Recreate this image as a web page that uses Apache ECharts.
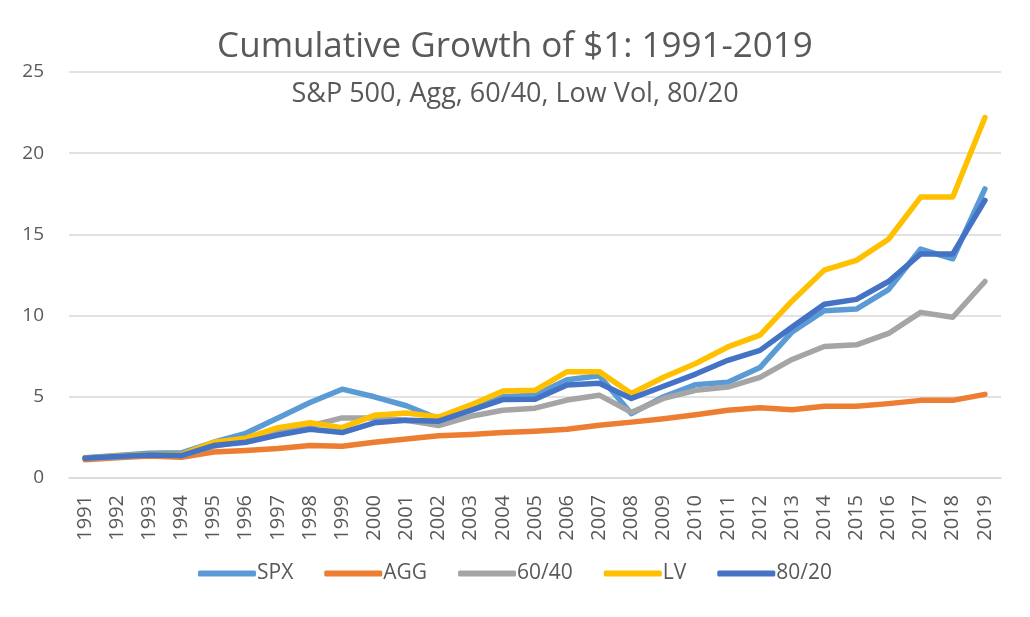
<!DOCTYPE html>
<html><head><meta charset="utf-8">
<script src="https://cdn.jsdelivr.net/npm/echarts@6/dist/echarts.min.js"></script>
<style>html,body{margin:0;padding:0;background:#fff}#c{width:1030px;height:617px}</style>
</head><body><div id="c"></div>
<script>
const years = ['1991','1992','1993','1994','1995','1996','1997','1998','1999','2000','2001','2002','2003','2004','2005','2006','2007','2008','2009','2010','2011','2012','2013','2014','2015','2016','2017','2018','2019'];
const spx   = [1.25,1.38,1.52,1.55,2.2,2.75,3.7,4.65,5.47,5.0,4.45,3.65,4.33,5.0,5.1,6.05,6.3,3.96,5.0,5.75,5.9,6.8,9.0,10.3,10.4,11.6,14.1,13.5,17.8];
const agg   = [1.12,1.25,1.35,1.27,1.6,1.7,1.82,2.0,1.95,2.2,2.4,2.6,2.68,2.8,2.88,3.0,3.25,3.44,3.65,3.9,4.17,4.33,4.2,4.42,4.42,4.58,4.78,4.78,5.15];
const p6040 = [1.2,1.3,1.42,1.38,1.95,2.3,2.8,3.2,3.7,3.7,3.55,3.23,3.8,4.17,4.3,4.8,5.1,4.05,4.9,5.4,5.6,6.2,7.3,8.1,8.2,8.9,10.2,9.9,12.1];
const lv    = [1.22,1.35,1.45,1.45,2.2,2.45,3.1,3.4,3.1,3.86,4.0,3.75,4.5,5.35,5.4,6.55,6.55,5.2,6.2,7.05,8.07,8.8,10.9,12.8,13.4,14.7,17.3,17.3,22.2];
const p8020 = [1.22,1.32,1.42,1.38,2.0,2.2,2.65,3.0,2.8,3.4,3.55,3.5,4.17,4.83,4.85,5.73,5.83,4.9,5.65,6.4,7.25,7.86,9.3,10.7,11.0,12.1,13.8,13.8,17.1];
const yTicks = [0,5,10,15,20,25];
const seriesNames = ['SPX','AGG','60/40','LV','80/20'];
const seriesData = [spx, agg, p6040, lv, p8020];
const colors = ['#5B9BD5','#ED7D31','#A5A5A5','#FFC000','#4472C4'];

const font = 'Open Sans';
const chart = echarts.init(document.getElementById('c'), null, {renderer:'canvas'});
chart.setOption({
  animation:false,
  backgroundColor:'#fff',
  title:[
    {text:'Cumulative Growth of $1: 1991-2019', left:'center', top:25,
     textStyle:{fontFamily:font, fontSize:35, fontWeight:'normal', color:'#595959'}},
    {text:'S&P 500, Agg, 60/40, Low Vol, 80/20', left:'center', top:76,
     textStyle:{fontFamily:font, fontSize:27, fontWeight:'normal', color:'#595959'}}
  ],
  legend:{
    data:seriesNames, bottom:28, left:'center', itemWidth:58, itemHeight:6, itemGap:31,
    icon:'roundRect',
    textStyle:{fontFamily:font, fontSize:21, color:'#595959', padding:[0,0,0,-4]}
  },
  grid:{left:69, right:29, top:72, bottom:139, containLabel:false},
  xAxis:{
    type:'category', data:years, boundaryGap:true,
    axisLine:{show:true, lineStyle:{color:'#D9D9D9', width:1.5}},
    axisTick:{show:false},
    axisLabel:{rotate:90, fontFamily:font, fontSize:20, color:'#595959', margin:17, interval:0}
  },
  yAxis:{
    type:'value', min:0, max:25, interval:5,
    axisLine:{show:false}, axisTick:{show:false},
    splitLine:{lineStyle:{color:'#D9D9D9', width:1.5}},
    axisLabel:{fontFamily:font, fontSize:19, color:'#595959', margin:25}
  },
  series: seriesNames.map((n,i)=>({
    name:n, type:'line', data:seriesData[i], symbol:'none', smooth:false,
    lineStyle:{color:colors[i], width:5.5, cap:'round', join:'round'},
    itemStyle:{color:colors[i]}, z:2+i
  }))
});
</script></body></html>
